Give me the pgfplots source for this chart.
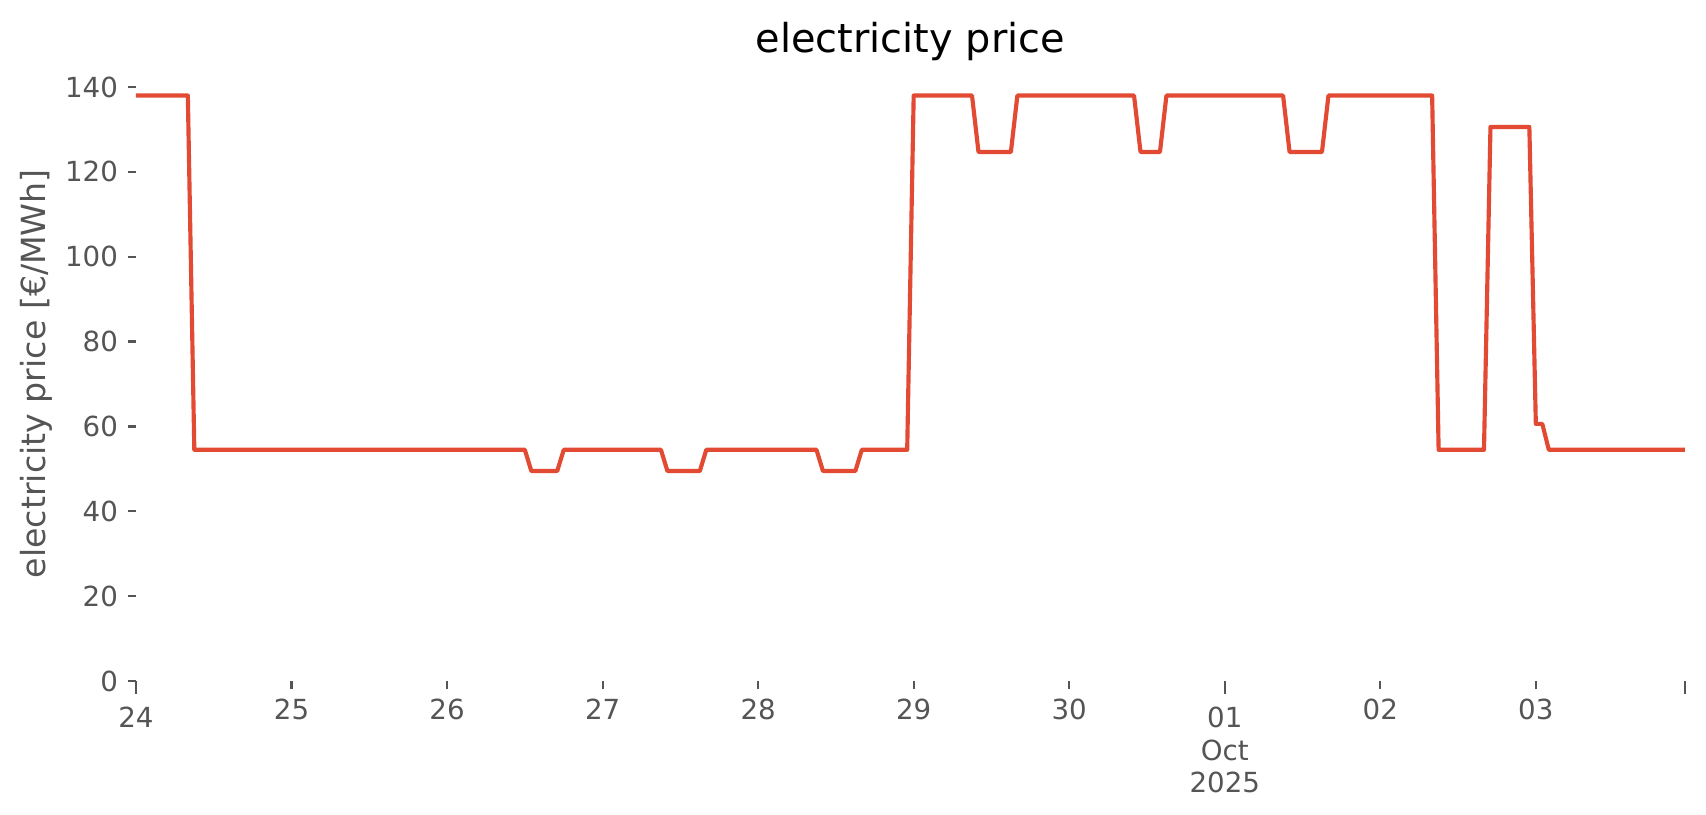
\documentclass[border=0pt]{standalone}
\usepackage{pgfplots}
\pgfplotsset{compat=1.18}
\usepackage{fontspec}
\setmainfont{DejaVu Sans}
\definecolor{ggred}{HTML}{E24A33}
\definecolor{ggtick}{HTML}{555555}
\begin{document}
\begin{tikzpicture}
\path[use as bounding box] (-48.96bp,-48.24bp) rectangle (565.2bp,245.16bp);
\begin{axis}[
  at={(0,0)}, anchor=south west,
  scale only axis, width=557.6bp, height=221.3bp,
  xmin=0, xmax=239, ymin=0, ymax=144.9,
  axis lines*=left,
  axis line style={draw=none,-},
  tick align=outside,
  major tick length=3bp,
  tick style={ggtick, line width=0.8bp},
  xtick={24,48,72,96,120,144,192,216},
  xticklabels={25,26,27,28,29,30,02,03},
  extra x ticks={0,168,239},
  extra x tick labels={24,{01\\Oct\\2025},{}},
  extra x tick style={major tick length=4.5bp, xticklabel style={yshift=-1.5bp}},
  ytick={0,20,...,140},
  ticklabel style={font=\fontsize{10}{11.7}\selectfont, text=ggtick},
  xticklabel style={align=center},
  /pgf/number format/assume math mode=true,
  ylabel={electricity price [€/MWh]},
  ylabel style={at={(axis description cs:-0.0539,0.5)}, anchor=south, inner sep=0pt, font=\fontsize{12}{14}\selectfont, text=ggtick},
  title={electricity price},
  title style={at={(axis description cs:0.5,1)}, anchor=base, yshift=-0.9bp, inner sep=0pt, font=\fontsize{14.4}{17}\selectfont, text=black},
]
\addplot[ggred, line width=1.5pt, line join=round] coordinates {
(0,138) (8,138) (9,54.5) (60,54.5) (61,49.5) (65,49.5) (66,54.5)
(81,54.5) (82,49.5) (87,49.5) (88,54.5)
(105,54.5) (106,49.5) (111,49.5) (112,54.5)
(119,54.5) (120,138) (129,138) (130,124.7) (135,124.7) (136,138)
(154,138) (155,124.7) (158,124.7) (159,138)
(177,138) (178,124.7) (183,124.7) (184,138)
(200,138) (201,54.5) (208,54.5) (209,130.6) (215,130.6)
(216,60.6) (217,60.6) (218,54.5) (239,54.5)
};
\end{axis}
\end{tikzpicture}
\end{document}
